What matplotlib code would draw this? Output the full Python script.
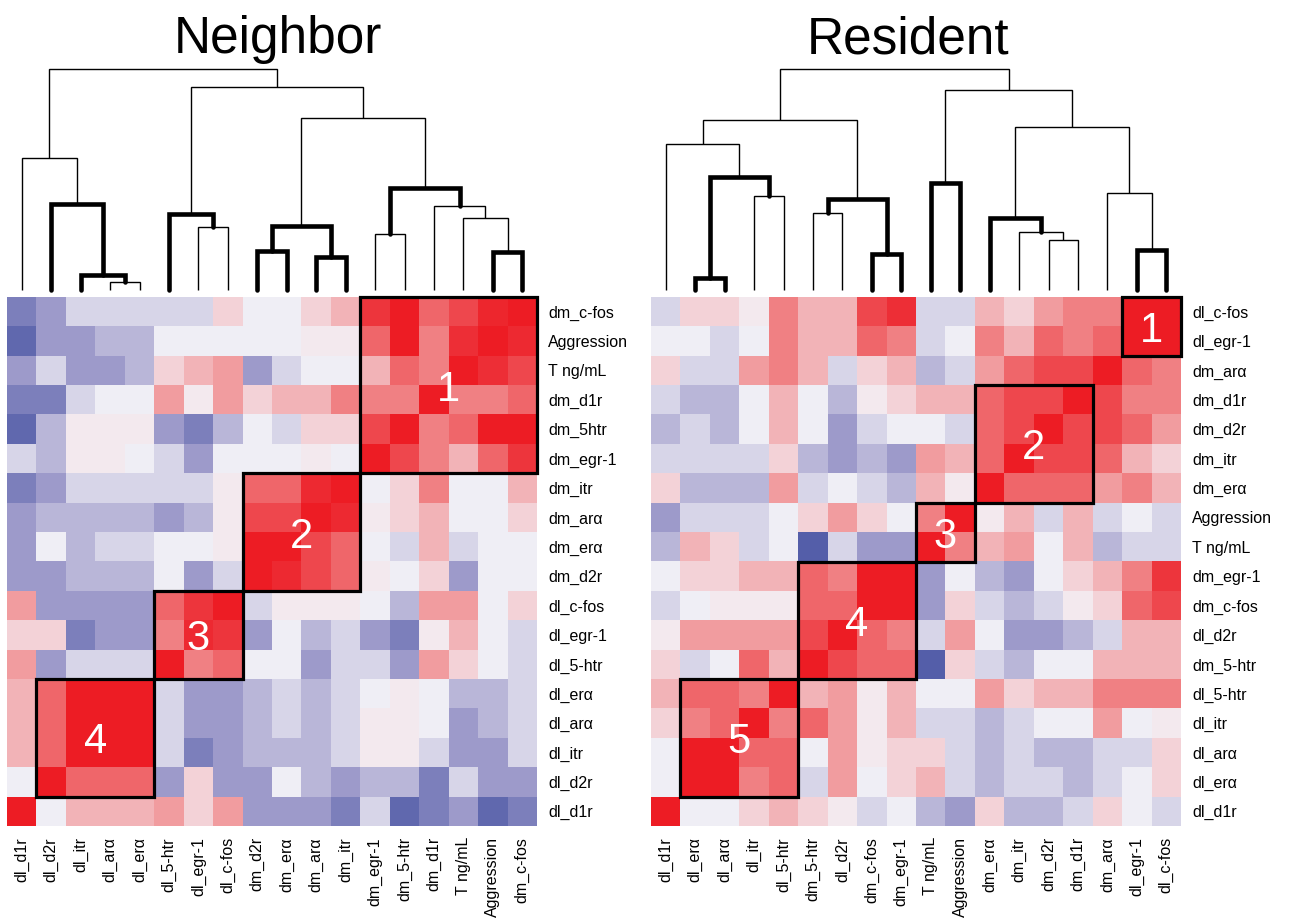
import numpy as np
import matplotlib
matplotlib.use("Agg")
import matplotlib.pyplot as plt
from matplotlib.colors import LinearSegmentedColormap
from matplotlib.patches import Rectangle

plt.rcParams['font.family'] = ['Liberation Sans', 'DejaVu Sans']

# ---------------- Neighbor ----------------
nb_cols = ["dl_d1r", "dl_d2r", "dl_itr", "dl_arα", "dl_erα", "dl_5-htr", "dl_egr-1", "dl_c-fos",
           "dm_d2r", "dm_erα", "dm_arα", "dm_itr", "dm_egr-1", "dm_5-htr", "dm_d1r",
           "T ng/mL", "Aggression", "dm_c-fos"]
nb_rows = ["dm_c-fos", "Aggression", "T ng/mL", "dm_d1r", "dm_5htr", "dm_egr-1", "dm_itr", "dm_arα",
           "dm_erα", "dm_d2r", "dl_c-fos", "dl_egr-1", "dl_5-htr", "dl_erα", "dl_arα", "dl_itr",
           "dl_d2r", "dl_d1r"]
# correlations, rows top to bottom as shown
nb_corr = [
    [-0.72, -0.51, -0.17, -0.17, -0.17, -0.17, -0.17, 0.15, -0.03, -0.03, 0.15, 0.30, 0.88, 1.0, 0.66, 0.80, 0.95, 1.0],
    [-0.90, -0.51, -0.51, -0.35, -0.35, -0.03, -0.03, -0.03, -0.03, -0.03, 0.04, 0.04, 0.66, 1.0, 0.54, 0.91, 1.0, 0.93],
    [-0.51, -0.17, -0.51, -0.51, -0.35, 0.15, 0.30, 0.41, -0.51, -0.17, -0.03, -0.03, 0.30, 0.66, 0.54, 1.0, 0.91, 0.80],
    [-0.72, -0.72, -0.17, -0.03, -0.03, 0.41, 0.04, 0.41, 0.15, 0.30, 0.30, 0.54, 0.54, 0.54, 1.0, 0.54, 0.54, 0.66],
    [-0.90, -0.35, 0.04, 0.04, 0.04, -0.51, -0.72, -0.35, -0.03, -0.17, 0.15, 0.15, 0.80, 1.0, 0.54, 0.66, 1.0, 1.0],
    [-0.17, -0.35, 0.04, 0.04, -0.03, -0.17, -0.51, -0.03, -0.03, -0.03, 0.04, -0.03, 1.0, 0.80, 0.54, 0.30, 0.66, 0.88],
    [-0.72, -0.51, -0.17, -0.17, -0.17, -0.17, -0.17, 0.04, 0.66, 0.66, 0.93, 1.0, -0.03, 0.15, 0.54, -0.03, -0.03, 0.30],
    [-0.51, -0.35, -0.35, -0.35, -0.35, -0.51, -0.35, 0.04, 0.80, 0.80, 1.0, 0.93, 0.04, 0.15, 0.30, -0.03, -0.03, 0.15],
    [-0.51, -0.03, -0.35, -0.17, -0.17, -0.03, -0.03, 0.04, 1.0, 1.0, 0.80, 0.66, -0.03, -0.17, 0.30, -0.17, -0.03, -0.03],
    [-0.51, -0.51, -0.35, -0.35, -0.35, -0.03, -0.51, -0.17, 1.0, 0.93, 0.80, 0.66, 0.04, -0.03, 0.15, -0.51, -0.03, -0.03],
    [0.41, -0.51, -0.51, -0.51, -0.51, 0.66, 0.88, 1.0, -0.17, 0.04, 0.04, 0.04, -0.03, -0.35, 0.41, 0.41, -0.03, 0.15],
    [0.15, 0.15, -0.72, -0.51, -0.51, 0.54, 0.93, 0.88, -0.51, -0.03, -0.35, -0.17, -0.51, -0.72, 0.04, 0.30, -0.03, -0.17],
    [0.41, -0.51, -0.17, -0.17, -0.17, 1.0, 0.54, 0.66, -0.03, -0.03, -0.51, -0.17, -0.17, -0.51, 0.41, 0.15, -0.03, -0.17],
    [0.30, 0.66, 1.0, 1.0, 1.0, -0.17, -0.51, -0.51, -0.35, -0.17, -0.35, -0.17, -0.03, 0.04, -0.03, -0.35, -0.35, -0.17],
    [0.30, 0.66, 1.0, 1.0, 1.0, -0.17, -0.51, -0.51, -0.35, -0.17, -0.35, -0.17, 0.04, 0.04, -0.03, -0.51, -0.35, -0.17],
    [0.30, 0.66, 1.0, 1.0, 1.0, -0.17, -0.72, -0.51, -0.35, -0.35, -0.35, -0.17, 0.04, 0.04, -0.17, -0.51, -0.51, -0.17],
    [-0.03, 1.0, 0.66, 0.66, 0.66, -0.51, 0.15, -0.51, -0.51, -0.03, -0.35, -0.51, -0.35, -0.35, -0.72, -0.17, -0.51, -0.51],
    [1.0, -0.03, 0.30, 0.30, 0.30, 0.41, 0.15, 0.41, -0.51, -0.51, -0.51, -0.72, -0.17, -0.90, -0.72, -0.51, -0.90, -0.72],
]
# merges: (child a, child b, height, bold); leaves 0-17, new nodes from 18
nb_links = [
    (3, 4, 0.038, False), (2, 18, 0.068, True), (1, 19, 0.39, True), (0, 20, 0.598, False),
    (6, 7, 0.284, False), (5, 22, 0.344, True), (8, 9, 0.178, True), (10, 11, 0.148, True),
    (24, 25, 0.29, True), (12, 13, 0.254, False), (16, 17, 0.174, True), (15, 28, 0.326, False),
    (14, 29, 0.38, False), (27, 30, 0.46, True), (26, 31, 0.78, False), (23, 32, 0.918, False),
    (21, 33, 1.0, False),
]
# clusters outlined: (label, first column, last column)
nb_clusters = [("1", 12, 17), ("2", 8, 11), ("3", 5, 7), ("4", 1, 4)]

# ---------------- Resident ----------------
rs_cols = ["dl_d1r", "dl_erα", "dl_arα", "dl_itr", "dl_5-htr", "dm_5-htr", "dl_d2r", "dm_c-fos",
           "dm_egr-1", "T ng/mL", "Aggression", "dm_erα", "dm_itr", "dm_d2r", "dm_d1r", "dm_arα",
           "dl_egr-1", "dl_c-fos"]
rs_rows = ["dl_c-fos", "dl_egr-1", "dm_arα", "dm_d1r", "dm_d2r", "dm_itr", "dm_erα", "Aggression",
           "T ng/mL", "dm_egr-1", "dm_c-fos", "dl_d2r", "dm_5-htr", "dl_5-htr", "dl_itr", "dl_arα",
           "dl_erα", "dl_d1r"]
rs_corr = [
    [-0.17, 0.15, 0.15, 0.04, 0.54, 0.30, 0.30, 0.80, 0.91, -0.17, -0.17, 0.30, 0.15, 0.41, 0.54, 0.54, 1.0, 1.0],
    [-0.03, -0.03, -0.17, -0.03, 0.54, 0.30, 0.30, 0.66, 0.54, -0.17, -0.03, 0.54, 0.30, 0.66, 0.54, 0.66, 1.0, 1.0],
    [0.15, -0.17, -0.17, 0.41, 0.54, 0.30, -0.17, 0.15, 0.30, -0.35, -0.17, 0.41, 0.66, 0.80, 0.80, 1.0, 0.66, 0.54],
    [-0.17, -0.35, -0.35, -0.03, 0.30, -0.03, -0.35, 0.04, 0.15, 0.30, 0.30, 0.66, 0.80, 0.80, 1.0, 0.80, 0.54, 0.54],
    [-0.35, -0.17, -0.35, -0.03, 0.30, -0.03, -0.51, -0.17, -0.03, -0.03, -0.17, 0.66, 0.80, 1.0, 0.80, 0.80, 0.66, 0.41],
    [-0.17, -0.17, -0.17, -0.17, 0.15, -0.35, -0.51, -0.35, -0.51, 0.41, 0.30, 0.66, 1.0, 0.80, 0.80, 0.66, 0.30, 0.15],
    [0.15, -0.35, -0.35, -0.35, 0.41, -0.17, -0.03, -0.17, -0.35, 0.30, 0.04, 1.0, 0.66, 0.66, 0.66, 0.41, 0.54, 0.30],
    [-0.51, -0.17, -0.17, -0.17, -0.03, 0.15, 0.41, 0.15, -0.03, 0.54, 1.0, 0.04, 0.30, -0.17, 0.30, -0.17, -0.03, -0.17],
    [-0.35, 0.30, 0.15, -0.17, -0.03, -0.98, -0.17, -0.51, -0.51, 1.0, 0.54, 0.30, 0.41, -0.03, 0.30, -0.35, -0.17, -0.17],
    [-0.03, 0.15, 0.15, 0.30, 0.30, 0.66, 0.54, 1.0, 1.0, -0.51, -0.03, -0.35, -0.51, -0.03, 0.15, 0.30, 0.54, 0.88],
    [-0.17, -0.03, 0.04, 0.04, 0.04, 0.66, 0.66, 1.0, 1.0, -0.51, 0.15, -0.17, -0.35, -0.17, 0.04, 0.15, 0.66, 0.80],
    [0.04, 0.41, 0.41, 0.41, 0.41, 0.80, 1.0, 0.66, 0.54, -0.17, 0.41, -0.03, -0.51, -0.51, -0.35, -0.17, 0.30, 0.30],
    [0.15, -0.17, -0.03, 0.66, 0.30, 1.0, 0.80, 0.66, 0.66, -0.98, 0.15, -0.17, -0.35, -0.03, -0.03, 0.30, 0.30, 0.30],
    [0.30, 0.66, 0.66, 0.54, 1.0, 0.30, 0.41, 0.04, 0.30, -0.03, -0.03, 0.41, 0.15, 0.30, 0.30, 0.54, 0.54, 0.54],
    [0.15, 0.54, 0.66, 1.0, 0.54, 0.66, 0.41, 0.04, 0.30, -0.17, -0.17, -0.35, -0.17, -0.03, -0.03, 0.41, -0.03, 0.04],
    [-0.03, 1.0, 1.0, 0.66, 0.66, -0.03, 0.41, 0.04, 0.15, 0.15, -0.17, -0.35, -0.17, -0.35, -0.35, -0.17, -0.17, 0.15],
    [-0.03, 1.0, 1.0, 0.54, 0.66, -0.17, 0.41, -0.03, 0.15, 0.30, -0.17, -0.35, -0.17, -0.17, -0.35, -0.17, -0.03, 0.15],
    [1.0, -0.03, -0.03, 0.15, 0.30, 0.15, 0.04, -0.17, -0.03, -0.35, -0.51, 0.15, -0.35, -0.35, -0.17, 0.15, -0.03, -0.17],
]
rs_links = [
    (1, 2, 0.053, True), (3, 4, 0.427, False), (18, 19, 0.51, True), (0, 20, 0.66, False),
    (5, 6, 0.349, False), (7, 8, 0.162, True), (22, 23, 0.41, True), (21, 24, 0.767, False),
    (9, 10, 0.483, True), (13, 14, 0.224, False), (12, 27, 0.264, False), (11, 28, 0.325, True),
    (16, 17, 0.181, True), (15, 30, 0.441, False), (29, 31, 0.736, False), (26, 32, 0.903, False),
    (25, 33, 1.0, False),
]
rs_clusters = [("1", 16, 17), ("2", 11, 14), ("3", 9, 10), ("4", 5, 8), ("5", 1, 4)]

cmap = LinearSegmentedColormap.from_list(
    "corr", [(0.0, "#525ca8"), (0.25, "#a09ccb"), (0.5, "#f4f3f8"), (0.75, "#f18a8d"), (1.0, "#ed1c24")])

W, H = 1290, 924
fig = plt.figure(figsize=(W / 100, H / 100), dpi=100)


def px_axes(x0, y0, x1, y1):
    return fig.add_axes([x0 / W, 1 - y1 / H, (x1 - x0) / W, (y1 - y0) / H])


def draw_tree(ax, links, n):
    xs = {i: i + 0.5 for i in range(n)}
    hs = {i: 0.0 for i in range(n)}
    node = n
    for a, b, h, bold in links:
        xa, xb = xs[a], xs[b]
        ax.plot([xa, xa, xb, xb], [hs[a], h, h, hs[b]], color="black",
                lw=3.3 if bold else 1.0,
                solid_capstyle="round" if bold else "butt",
                solid_joinstyle="miter", clip_on=False)
        xs[node] = (xa + xb) / 2
        hs[node] = h
        node += 1
    ax.set_xlim(0, n)
    ax.set_ylim(0, 1)
    ax.axis("off")


def draw_panel(x0, title, title_x, cols, rows, corr, links, clusters):
    n = len(cols)
    x1 = x0 + 530
    ax = px_axes(x0, 297, x1, 826)
    ax.imshow(np.array(corr), cmap=cmap, vmin=-1, vmax=1, aspect="auto",
              interpolation="nearest", extent=(0, n, n, 0))
    ax.set_xticks(np.arange(n) + 0.5)
    ax.set_xticklabels(cols, rotation=90, fontsize=11.5)
    ax.yaxis.tick_right()
    ax.set_yticks(np.arange(n) + 0.5)
    ax.set_yticklabels(rows, fontsize=11.5)
    ax.tick_params(length=0, pad=8)
    for s in ax.spines.values():
        s.set_visible(False)
    for label, c0, c1 in clusters:
        r0 = n - 1 - c1
        size = c1 - c0 + 1
        ax.add_patch(Rectangle((c0, r0), size, size, fill=False, edgecolor="black",
                               lw=2.3, clip_on=False, zorder=3))
        ax.text(c0 + size / 2, r0 + size / 2, label, color="white", fontsize=30,
                ha="center", va="center_baseline", zorder=4)

    dax = px_axes(x0, 69, x1, 290)
    draw_tree(dax, links, n)

    fig.text(title_x / W, 1 - 53 / H, title, fontsize=37, ha="center", va="baseline")


draw_panel(7, "Neighbor", 278, nb_cols, nb_rows, nb_corr, nb_links, nb_clusters)
draw_panel(651, "Resident", 908, rs_cols, rs_rows, rs_corr, rs_links, rs_clusters)

fig.savefig("out.png", dpi=100, facecolor="white")
